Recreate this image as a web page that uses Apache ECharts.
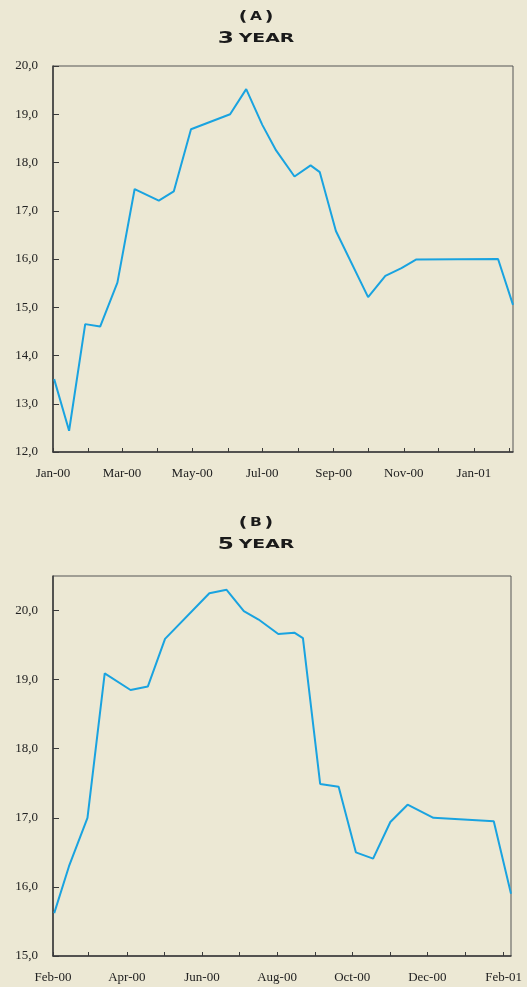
<!DOCTYPE html>
<html>
<head>
<meta charset="utf-8">
<script src="https://cdn.jsdelivr.net/npm/echarts@6/dist/echarts.min.js"></script>
<style>
  html, body { margin: 0; padding: 0; background: #ECE8D4; }
  #chart { width: 527px; height: 987px; }
</style>
</head>
<body>
<div id="chart"></div>
<script>
// Panel A: 3-year yields
var topDates = ['2000-01-02','2000-01-15','2000-01-29','2000-02-11','2000-02-26','2000-03-12','2000-04-02','2000-04-15','2000-04-30','2000-06-03','2000-06-17','2000-07-01','2000-07-13','2000-07-29','2000-08-12','2000-08-20','2000-09-03','2000-10-01','2000-10-16','2000-10-30','2000-11-12','2001-01-22','2001-02-04'];
var topValues = [13.51,12.44,14.65,14.60,15.51,17.45,17.21,17.40,18.69,19.00,19.52,18.78,18.25,17.71,17.94,17.80,16.58,15.21,15.65,15.81,15.99,16.00,15.05];
var topTickMonths = ['2000-01-01','2000-02-01','2000-03-01','2000-04-01','2000-05-01','2000-06-01','2000-07-01','2000-08-01','2000-09-01','2000-10-01','2000-11-01','2000-12-01','2001-01-01','2001-02-01'];
var topLabelDates = ['2000-01-01','2000-03-01','2000-05-01','2000-07-01','2000-09-01','2000-11-01','2001-01-01'];
var topLabels = ['Jan-00','Mar-00','May-00','Jul-00','Sep-00','Nov-00','Jan-01'];
var topYTicks = [12,13,14,15,16,17,18,19,20];

// Panel B: 5-year yields
var bottomDates = ['2000-02-02','2000-02-14','2000-02-29','2000-03-14','2000-04-04','2000-04-18','2000-05-02','2000-06-07','2000-06-21','2000-07-05','2000-07-17','2000-08-02','2000-08-15','2000-08-22','2000-09-05','2000-09-20','2000-10-04','2000-10-18','2000-11-01','2000-11-15','2000-12-06','2001-01-24','2001-02-07'];
var bottomValues = [15.62,16.30,17.00,19.09,18.85,18.90,19.59,20.25,20.30,19.99,19.87,19.66,19.68,19.60,17.49,17.45,16.50,16.41,16.94,17.19,17.00,16.95,15.90];
var bottomTickMonths = ['2000-02-01','2000-03-01','2000-04-01','2000-05-01','2000-06-01','2000-07-01','2000-08-01','2000-09-01','2000-10-01','2000-11-01','2000-12-01','2001-01-01','2001-02-01'];
var bottomLabelDates = ['2000-02-01','2000-04-01','2000-06-01','2000-08-01','2000-10-01','2000-12-01','2001-02-01'];
var bottomLabels = ['Feb-00','Apr-00','Jun-00','Aug-00','Oct-00','Dec-00','Feb-01'];
var bottomYTicks = [15,16,17,18,19,20];

function ts(d) { return new Date(d).getTime(); }
function pairs(dates, vals) { return dates.map(function (d, i) { return [ts(d), vals[i]]; }); }
function labelMap(dates, labels) {
  var m = {};
  dates.forEach(function (d, i) { m[ts(d)] = labels[i]; });
  return m;
}
var topLabelMap = labelMap(topLabelDates, topLabels);
var bottomLabelMap = labelMap(bottomLabelDates, bottomLabels);

var ink = '#1a1a1a';
var axisColor = '#3a3a3a';
var lineColor = '#19A3E0';
var labelFont = { fontFamily: '"Liberation Serif", serif', fontSize: 13, color: '#222' };

function xAxis(gridIndex, min, max, ticks, labelDates, map) {
  return {
    type: 'value', gridIndex: gridIndex, min: ts(min), max: ts(max),
    splitLine: { show: false },
    axisLine: { show: true, lineStyle: { color: axisColor, width: 1.5 } },
    axisTick: { show: true, inside: true, length: 4, lineStyle: { color: axisColor, width: 1 },
                customValues: ticks.map(ts) },
    axisLabel: Object.assign({ margin: 15, customValues: labelDates.map(ts),
                formatter: function (v) { return map[v] || ''; } }, labelFont)
  };
}
function yAxis(gridIndex, min, max, ticks) {
  return {
    type: 'value', gridIndex: gridIndex, min: min, max: max, interval: 1,
    splitLine: { show: false },
    axisLine: { show: true, lineStyle: { color: axisColor, width: 1.5 } },
    axisTick: { show: true, inside: true, length: 6, lineStyle: { color: axisColor, width: 1 },
                customValues: ticks },
    axisLabel: Object.assign({ margin: 15, customValues: ticks,
                formatter: function (v) { return v.toFixed(1).replace('.', ','); } }, labelFont)
  };
}

function heading(y1, y2, letter, num) {
  return [
    { type: 'text', x: 256, y: y1, scaleX: 1.35, style: {
        text: '{p|(}{l|' + letter + '}{p|)}', align: 'center', verticalAlign: 'middle',
        rich: {
          p: { fontFamily: '"DejaVu Sans"', fontWeight: 'bold', fontSize: 14, fill: ink },
          l: { fontFamily: '"DejaVu Sans"', fontWeight: 'bold', fontSize: 11.5, fill: ink, padding: [0, 2, 0, 2] }
        } } },
    { type: 'text', x: 256, y: y2, scaleX: 1.45, style: {
        text: '{n|' + num + '} {w|YEAR}', align: 'center', verticalAlign: 'middle',
        rich: {
          n: { fontFamily: '"DejaVu Sans"', fontWeight: 'bold', fontSize: 16, fill: ink },
          w: { fontFamily: '"DejaVu Sans"', fontWeight: 'bold', fontSize: 13, fill: ink }
        } } }
  ];
}

var chart = echarts.init(document.getElementById('chart'));
chart.setOption({
  backgroundColor: '#ECE8D4',
  animation: false,
  graphic: heading(17, 39, 'A', '3').concat(heading(523, 545, 'B', '5')),
  grid: [
    { left: 53, top: 66, right: 14, height: 386, show: true, borderColor: '#555', borderWidth: 1, backgroundColor: 'transparent' },
    { left: 53, top: 576, right: 16, height: 380, show: true, borderColor: '#555', borderWidth: 1, backgroundColor: 'transparent' }
  ],
  xAxis: [
    xAxis(0, '2000-01-01', '2001-02-04', topTickMonths, topLabelDates, topLabelMap),
    xAxis(1, '2000-02-01', '2001-02-07', bottomTickMonths, bottomLabelDates, bottomLabelMap)
  ],
  yAxis: [
    yAxis(0, 12, 20, topYTicks),
    yAxis(1, 15, 20.5, bottomYTicks)
  ],
  series: [
    { type: 'line', xAxisIndex: 0, yAxisIndex: 0, data: pairs(topDates, topValues),
      showSymbol: false, lineStyle: { color: lineColor, width: 2 }, clip: true },
    { type: 'line', xAxisIndex: 1, yAxisIndex: 1, data: pairs(bottomDates, bottomValues),
      showSymbol: false, lineStyle: { color: lineColor, width: 2 }, clip: true }
  ]
});
</script>
</body>
</html>
